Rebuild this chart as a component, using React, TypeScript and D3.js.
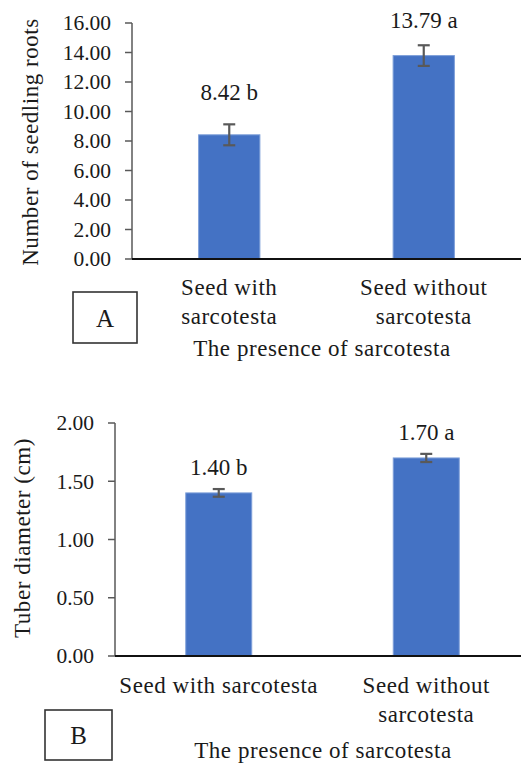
import React from 'react';
import * as d3 from 'd3';

// panel A: number of seedling roots
const categoriesA = [['Seed with', 'sarcotesta'], ['Seed without', 'sarcotesta']];
const rootsMean = [8.42, 13.79];
const rootsErr = [0.71, 0.70];
const rootsLetters = ['b', 'a'];
const rootsTicks = [0, 2, 4, 6, 8, 10, 12, 14, 16];

// panel B: tuber diameter
const categoriesB = [['Seed with sarcotesta'], ['Seed without', 'sarcotesta']];
const diameterMean = [1.40, 1.70];
const diameterErr = [0.033, 0.035];
const diameterLetters = ['b', 'a'];
const diameterTicks = [0, 0.5, 1, 1.5, 2];

const FONT = 'Liberation Serif, Tinos, DejaVu Serif, serif';
const BLUE = '#4472c4';
const GREY = '#595959';
const INK = '#1a1a1a';

interface PanelProps {
  cats: string[][];
  means: number[];
  errs: number[];
  letters: string[];
  ticks: number[];
  yTitle: string;
  tag: string;
  x0: number; x1: number; yTop: number; yBottom: number;
  barFrac: number;
  labelOffsets: number[];
  catBaseline: number;
  titleX: number; titleY: number;
  xTitleX: number; xTitleY: number;
  box: { x: number; y: number; w: number; h: number };
}

const Panel: React.FC<PanelProps> = (p) => {
  const y = d3.scaleLinear().domain([p.ticks[0], p.ticks[p.ticks.length - 1]]).range([p.yBottom, p.yTop]);
  const x = d3.scaleBand<number>().domain(p.cats.map((_, i) => i)).range([p.x0, p.x1]).padding(0);
  const bw = x.bandwidth() * p.barFrac;
  const cx = (i: number) => x(i)! + x.bandwidth() / 2;
  const words: React.CSSProperties = { fontFamily: FONT, fontSize: 23, letterSpacing: 0.55 };

  return (
    <g fill={INK}>
      {/* bars */}
      {p.means.map((m, i) => (
        <rect key={'b' + i} x={cx(i) - bw / 2} y={y(m)} width={bw} height={y(0) - y(m)}
          fill={BLUE} stroke="#7e9fd9" strokeWidth={1} />
      ))}
      {/* error bars */}
      {p.means.map((m, i) => {
        const hi = y(m + p.errs[i]);
        const lo = y(m - p.errs[i]);
        return (
          <g key={'e' + i} stroke={GREY} strokeWidth={2.2}>
            <line x1={cx(i)} x2={cx(i)} y1={hi} y2={lo} />
            <line x1={cx(i) - 6} x2={cx(i) + 6} y1={hi} y2={hi} />
            <line x1={cx(i) - 6} x2={cx(i) + 6} y1={lo} y2={lo} />
          </g>
        );
      })}
      {/* value labels */}
      {p.means.map((m, i) => (
        <text key={'l' + i} x={cx(i)} y={y(m + p.errs[i]) - p.labelOffsets[i]} textAnchor="middle"
          fill={INK} style={{ fontFamily: FONT, fontSize: 23 }}>
          {`${m.toFixed(2)} ${p.letters[i]}`}
        </text>
      ))}
      {/* y axis */}
      <line x1={p.x0} x2={p.x0} y1={p.yTop} y2={p.yBottom} stroke={GREY} strokeWidth={1.5} />
      {p.ticks.map((t) => (
        <g key={'t' + t}>
          <line x1={p.x0 - 7} x2={p.x0} y1={y(t)} y2={y(t)} stroke={GREY} strokeWidth={1.5} />
          <text x={p.x0 - 21} y={y(t)} dy="0.34em" textAnchor="end" fill={INK}
            style={{ fontFamily: FONT, fontSize: 21.5 }}>
            {t.toFixed(2)}
          </text>
        </g>
      ))}
      {/* x axis */}
      <line x1={p.x0} x2={p.x1} y1={p.yBottom} y2={p.yBottom} stroke="#111" strokeWidth={2.2} />
      {p.cats.map((lines, i) => (
        <text key={'c' + i} x={cx(i)} y={p.catBaseline} textAnchor="middle" fill={INK} style={words}>
          {lines.map((ln, j) => (
            <tspan key={j} x={cx(i)} dy={j === 0 ? 0 : 28.5}>{ln}</tspan>
          ))}
        </text>
      ))}
      <text transform={`translate(${p.titleX},${p.titleY}) rotate(-90)`} textAnchor="middle" fill={INK} style={words}>
        {p.yTitle}
      </text>
      <text x={p.xTitleX} y={p.xTitleY} textAnchor="middle" fill={INK} style={words}>
        The presence of sarcotesta
      </text>
      <rect x={p.box.x} y={p.box.y} width={p.box.w} height={p.box.h} fill="none" stroke="#333" strokeWidth={1.6} />
      <text x={p.box.x + p.box.w / 2} y={p.box.y + p.box.h / 2 + 9} textAnchor="middle" fill={INK}
        style={{ fontFamily: FONT, fontSize: 25 }}>
        {p.tag}
      </text>
    </g>
  );
};

export default function App() {
  return (
    <svg width={521} height={764} style={{ position: 'absolute', left: 0, top: 0, background: '#fff' }}>
      <rect width={521} height={764} fill="#fff" />
      <Panel cats={categoriesA} means={rootsMean} errs={rootsErr} letters={rootsLetters} ticks={rootsTicks}
        yTitle="Number of seedling roots" tag="A"
        x0={132} x1={521} yTop={23} yBottom={259} barFrac={0.315} labelOffsets={[24, 17]}
        catBaseline={295} titleX={38} titleY={142} xTitleX={322} xTitleY={356}
        box={{ x: 73, y: 292, w: 64, h: 51 }} />
      <Panel cats={categoriesB} means={diameterMean} errs={diameterErr} letters={diameterLetters} ticks={diameterTicks}
        yTitle="Tuber diameter (cm)" tag="B"
        x0={115} x1={530} yTop={423} yBottom={656} barFrac={0.318} labelOffsets={[14, 14]}
        catBaseline={693} titleX={30} titleY={538} xTitleX={323} xTitleY={758}
        box={{ x: 45, y: 710, w: 67, h: 50 }} />
    </svg>
  );
}
